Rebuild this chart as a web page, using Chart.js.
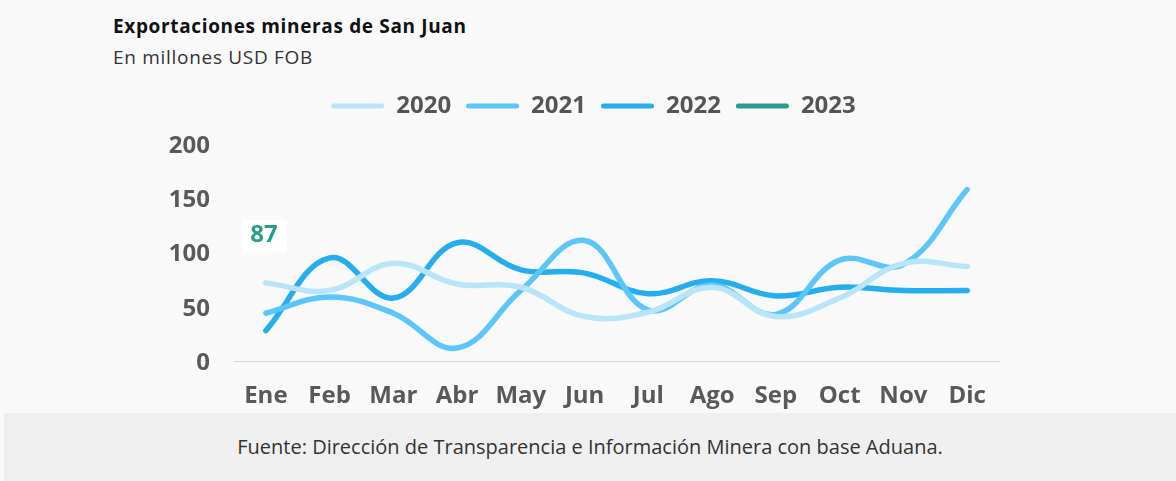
<!DOCTYPE html>
<html>
<head>
<meta charset="utf-8">
<script src="https://cdn.jsdelivr.net/npm/chart.js@4"></script>
<style>
  html, body { margin:0; padding:0; }
  body { width:1176px; height:481px; background:#f9f9f9; position:relative; overflow:hidden; font-family:"Open Sans", sans-serif; }
  #title { position:absolute; left:113px; top:13px; font-size:19px; font-weight:700; color:#111; letter-spacing:0.65px; }
  #subtitle { position:absolute; left:113px; top:44px; font-size:19px; color:#333; letter-spacing:0.7px; }
  #wrap { position:absolute; left:0; top:0; width:1176px; height:412px; }
  #footer { position:absolute; left:4px; top:413px; width:1172px; height:68px; background:#efefef; text-align:center; line-height:68px; font-size:20px; color:#333; font-family:"Open Sans", sans-serif; }
</style>
</head>
<body>
<div id="title">Exportaciones mineras de San Juan</div>
<div id="subtitle">En millones USD FOB</div>
<div id="wrap"><canvas id="c" width="1176" height="412"></canvas></div>
<div id="footer">Fuente: Dirección de Transparencia e Información Minera con base Aduana.</div>
<script>
const months = ["Ene","Feb","Mar","Abr","May","Jun","Jul","Ago","Sep","Oct","Nov","Dic"];
const v2020 = [72, 65, 90, 71, 68, 41, 45, 68, 41, 58, 90, 87];
const v2021 = [44, 59, 44, 12, 65, 111, 47, 70, 43, 93, 89, 158];
const v2022 = [28, 95, 58, 109, 84, 81, 62, 74, 60, 68, 65, 65];
const v2023 = [87, null, null, null, null, null, null, null, null, null, null, null];
const yTicks = [0, 50, 100, 150, 200];
const seriesNames = ["2020","2021","2022","2023"];
const seriesColors = ["#b9e5fb","#5bc6f9","#24aeef","#2a9d8a"];

const legendMargin = {
  id:'legendMargin',
  beforeInit(chart){
    const fit = chart.legend.fit;
    chart.legend.fit = function(){ fit.bind(chart.legend)(); this.height += 16; };
  },
  afterLayout(chart){
    chart.legend.left += 19;
    chart.legend.right += 19;
  }
};
const label2023 = {
  id:'label2023',
  afterDatasetsDraw(chart){
    const meta = chart.getDatasetMeta(3);
    const pt = meta.data[0];
    if (!pt) return;
    const ctx = chart.ctx;
    ctx.save();
    const x = pt.x - 2, y = pt.y - 31;
    ctx.fillStyle = '#ffffff';
    ctx.fillRect(x - 22, y - 16, 45, 33);
    ctx.font = '700 24px "Open Sans"';
    ctx.fillStyle = '#2a9d8a';
    ctx.textAlign = 'center';
    ctx.textBaseline = 'middle';
    ctx.fillText(String(v2023[0]), x, y);
    ctx.restore();
  }
};

const datasets = [v2020, v2021, v2022, v2023].map((d,i)=>({
  label: seriesNames[i],
  data: d,
  borderColor: seriesColors[i],
  backgroundColor: seriesColors[i],
  borderWidth: 5.5,
  borderCapStyle: 'round',
  borderJoinStyle: 'round',
  pointRadius: 0,
  pointHoverRadius: 0,
  tension: 0.4,
  fill: false
}));

new Chart(document.getElementById('c'), {
  type:'line',
  data:{ labels: months, datasets },
  plugins:[legendMargin, label2023],
  options:{
    responsive:false,
    animation:false,
    layout:{ padding:{ left:150, right:177, top:79, bottom:0 } },
    plugins:{
      tooltip:{ enabled:false },
      legend:{
        position:'top',
        align:'center',
        labels:{
          boxWidth:53, boxHeight:5, padding:15,
          useBorderRadius:true, borderRadius:2.5,
          color:'#555555',
          font:{ family:'"Open Sans"', size:24, weight:'700' },
          generateLabels(chart){
            return chart.data.datasets.map((ds,i)=>({
              text: ds.label, fillStyle: ds.borderColor, strokeStyle: ds.borderColor,
              lineWidth: 0, hidden:false, datasetIndex:i, borderRadius:2.5, fontColor:'#555555'
            }));
          }
        }
      }
    },
    scales:{
      x:{
        offset:true,
        grid:{ display:false },
        border:{ display:true, color:'#d9d9d9', width:1 },
        ticks:{ color:'#595959', padding:13, font:{ family:'"Open Sans"', size:24, weight:'700' }, maxRotation:0, autoSkip:false },
        afterFit(s){ s.height = 51; }
      },
      y:{
        min:0, max:200,
        grid:{ display:false },
        border:{ display:false },
        afterBuildTicks(s){ s.ticks = yTicks.map(v=>({value:v})); },
        ticks:{ color:'#595959', padding:16, labelOffset:2, font:{ family:'"Open Sans"', size:24, weight:'700' } },
        afterFit(s){ s.width = 84; }
      }
    }
  }
});
</script>
</body>
</html>
